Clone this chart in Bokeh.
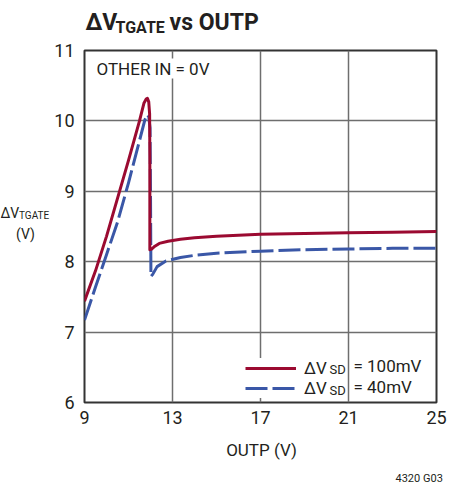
from bokeh.plotting import figure
from bokeh.layouts import column, row
from bokeh.models import Range1d, FixedTicker, Label, Legend, LegendItem, ColumnDataSource
from bokeh.embed import file_html
from bokeh.resources import INLINE

# ---- data ----
red_x = [9.0, 9.5, 10.0, 10.5, 11.0, 11.5, 11.7, 11.8, 11.86, 11.92, 11.96, 11.97, 11.97,
         12.05, 12.2, 12.4, 12.8, 13.36, 14.0, 15.0, 17.0, 19.0, 21.0, 23.0, 25.0]
red_y = [7.44, 7.87, 8.36, 8.90, 9.44, 10.0, 10.25, 10.31, 10.32, 10.27, 10.1, 9.5, 8.17,
         8.18, 8.22, 8.26, 8.29, 8.32, 8.34, 8.36, 8.39, 8.40, 8.41, 8.42, 8.43]
blue_x = [9.0, 9.5, 10.0, 10.5, 11.0, 11.5, 11.75, 11.85, 11.92, 11.98, 12.0, 12.02,
          12.1, 12.3, 12.7, 13.36, 14.0, 15.0, 17.0, 19.0, 21.0, 23.0, 25.0]
blue_y = [7.17, 7.64, 8.10, 8.56, 9.12, 9.72, 10.02, 10.09, 10.06, 9.9, 9.0, 7.79,
          7.82, 7.93, 8.01, 8.06, 8.09, 8.12, 8.15, 8.17, 8.18, 8.19, 8.19]
x_ticks = [9, 13, 17, 21, 25]
y_ticks = [6, 7, 8, 9, 10, 11]
series_names = ["100mV", "40mV"]

FONT = "Roboto"
TXT = "#231f20"
RED = "#9b0a31"
BLUE = "#3a57a7"


def lab(fig, x, y, text, size, bold=False, align="left", bg=None):
    l = Label(x=x, y=y, text=text, text_font=FONT, text_font_size=size,
              text_font_style="bold" if bold else "normal", text_color=TXT,
              text_align=align, text_baseline="alphabetic")
    if bg:
        l.background_fill_color = bg
    fig.add_layout(l)


class Strip:
    """A blank figure whose frame fills its canvas; labels placed in page pixels."""

    def __init__(self, w, h, x0, y0):
        self.x0, self.y0, self.h = x0, y0, h
        f = figure(width=w, height=h, output_backend="svg", toolbar_location=None,
                   title=None, x_range=Range1d(0, w), y_range=Range1d(0, h),
                   x_axis_type=None, y_axis_type=None, frame_align=False,
                   min_border=0, min_border_left=0, min_border_right=0,
                   min_border_top=0, min_border_bottom=0)
        f.outline_line_color = None
        f.background_fill_color = "white"
        f.border_fill_color = "white"
        self.fig = f

    def text(self, px, py, text, size, **kw):
        lab(self.fig, px - self.x0, self.y0 + self.h - py, text, size, **kw)


# ---- main chart ----
p = figure(width=403, height=396, output_backend="svg", toolbar_location=None,
           x_range=Range1d(9, 25), y_range=Range1d(6, 11), frame_align=False,
           min_border_left=34, min_border_right=17, min_border_top=14, min_border_bottom=30)
p.background_fill_color = "white"
p.border_fill_color = "white"
p.outline_line_color = "#333333"
p.outline_line_width = 2

p.xaxis.ticker = FixedTicker(ticks=x_ticks)
p.yaxis.ticker = FixedTicker(ticks=y_ticks)
for ax in (p.xaxis[0], p.yaxis[0]):
    ax.axis_line_color = None
    ax.major_tick_line_color = None
    ax.minor_tick_line_color = None
    ax.major_tick_out = 0
    ax.major_tick_in = 0
    ax.minor_tick_out = 0
    ax.minor_tick_in = 0
    ax.major_label_text_font = FONT
    ax.major_label_text_font_size = "18px"
    ax.major_label_text_color = TXT
p.xaxis.major_label_standoff = 8
p.yaxis.major_label_standoff = 10
p.grid.grid_line_color = "#6e6e6e"
p.grid.grid_line_width = 1.5

src_r = ColumnDataSource(dict(x=red_x, y=red_y))
src_b = ColumnDataSource(dict(x=blue_x, y=blue_y))
rb = p.line("x", "y", source=src_b, line_color=BLUE, line_width=3, line_dash="22 5",
            line_join="round")
rr = p.line("x", "y", source=src_r, line_color=RED, line_width=3, line_join="round")

legend = Legend(items=[LegendItem(label="ΔV", renderers=[rr]),
                       LegendItem(label="ΔV", renderers=[rb])],
                location=(161, 4), padding=7, margin=0, spacing=0,
                glyph_width=51, glyph_height=20, label_height=20, label_standoff=8,
                label_text_font=FONT, label_text_font_size="17px", label_text_color=TXT,
                border_line_color=None, background_fill_color="white", background_fill_alpha=1.0)
p.add_layout(legend, "center")

lab(p, 20.14, 6.47, "SD", "13px")
lab(p, 21.227, 6.5156, "= " + series_names[0], "17px")
lab(p, 20.14, 6.17, "SD", "13px")
lab(p, 21.227, 6.217, "= " + series_names[1], "17px")
lab(p, 9.545, 10.744, "OTHER IN = 0V", "17px", bg="white")

# ---- title strip ----
t = Strip(453, 36, 0, 0)
t.text(85, 21.5, "ΔV", "23px", bold=True)
t.text(115, 27.0, "TGATE", "16px", bold=True)
t.text(169, 21.5, "vs OUTP", "23px", bold=True)

# ---- y axis label strip (left of the tick labels) ----
yl = Strip(50, 396, 0, 36)
yl.text(0, 212, "ΔV", "14px")
yl.text(18.5, 215, "TGATE", "10px")
yl.text(25, 233, "(V)", "14px", align="center")

# ---- bottom strip ----
b = Strip(453, 54, 0, 432)
b.text(261, 449, "OUTP (V)", "17px", align="center")
b.text(395, 478, "4320 G03", "11px")

layout = column(t.fig, row(yl.fig, p, spacing=0), b.fig, spacing=0)
open("out.html", "w").write(file_html(layout, INLINE))
